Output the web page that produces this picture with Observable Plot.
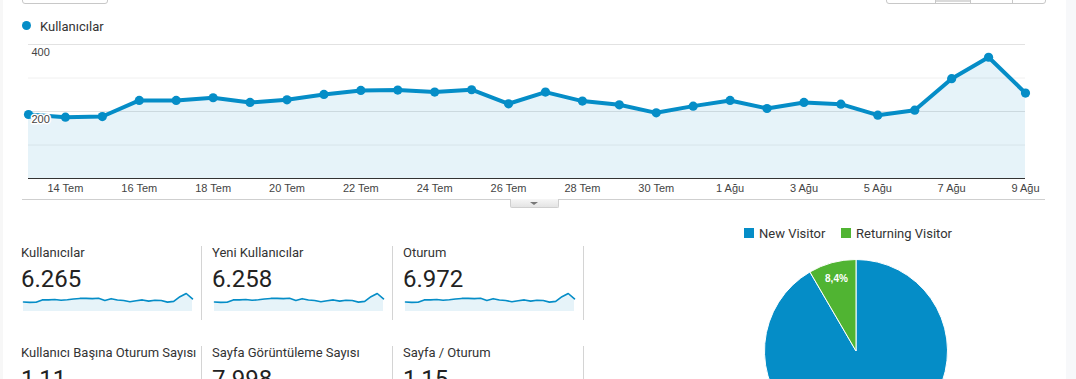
<!DOCTYPE html>
<html><head><meta charset="utf-8">
<script src="https://cdn.jsdelivr.net/npm/d3@7"></script>
<script src="https://cdn.jsdelivr.net/npm/@observablehq/plot@0.6"></script>
<style>
body{margin:0;background:#fff;}
#page{position:relative;width:1076px;height:379px;overflow:hidden;font-family:Roboto,Arial,sans-serif;color:#333;background:#fff;}
.abs{position:absolute;}
.lbl{position:absolute;font-size:13px;line-height:13px;color:#333;white-space:nowrap;}
.val{position:absolute;font-size:24px;line-height:24px;color:#222;white-space:nowrap;}
.sep{position:absolute;width:1px;background:#d4d4d4;}
</style></head><body><div id="page"></div>
<script>
// ---- data ----
const dates = ["2019-07-13","2019-07-14","2019-07-15","2019-07-16","2019-07-17","2019-07-18","2019-07-19",
  "2019-07-20","2019-07-21","2019-07-22","2019-07-23","2019-07-24","2019-07-25","2019-07-26","2019-07-27",
  "2019-07-28","2019-07-29","2019-07-30","2019-07-31","2019-08-01","2019-08-02","2019-08-03","2019-08-04",
  "2019-08-05","2019-08-06","2019-08-07","2019-08-08","2019-08-09"];
const users = [191,183,185,233,233,241,227,235,251,263,264,258,265,223,258,231,220,196,216,233,209,227,222,189,204,298,362,255];
const tickDates = ["2019-07-14","2019-07-16","2019-07-18","2019-07-20","2019-07-22","2019-07-24","2019-07-26",
  "2019-07-28","2019-07-30","2019-08-01","2019-08-03","2019-08-05","2019-08-07","2019-08-09"];
const tickLabels = ["14 Tem","16 Tem","18 Tem","20 Tem","22 Tem","24 Tem","26 Tem","28 Tem","30 Tem",
  "1 Ağu","3 Ağu","5 Ağu","7 Ağu","9 Ağu"];
const yLabelTicks = [400, 200];
const majorGrid = [400, 200];
const minorGrid = [300, 100];
const seriesName = "Kullanıcılar";
const metricNames = ["Kullanıcılar","Yeni Kullanıcılar","Oturum","Kullanıcı Başına Oturum Sayısı","Sayfa Görüntüleme Sayısı","Sayfa / Oturum"];
const metricValues = ["6.265","6.258","6.972","1,11","7.998","1,15"];
const pieLabels = ["New Visitor","Returning Visitor"];
const pieValues = [91.6, 8.4];
const pieText = ["", "8,4%"];
const pieColors = ["#058dc7","#50b432"];
const lineColor = "#058dc7";

const page = document.getElementById("page");
function el(tag, cls, style, text){const e=document.createElement(tag);if(cls)e.className=cls;Object.assign(e.style,style||{});if(text!=null)e.textContent=text;page.appendChild(e);return e;}

const table = dates.map((d,i)=>({date:new Date(d), value:users[i]}));
const d0 = table[0].date, dN = table[table.length-1].date;

// side strips & top buttons
el("div","abs",{left:"0px",top:"0px",width:"3px",height:"379px",background:"#f7f7f7"});
el("div","abs",{left:"1066px",top:"0px",width:"10px",height:"379px",background:"#f7f8fa"});
el("div","abs",{left:"22px",top:"-10px",width:"84px",height:"12px",border:"1px solid #c8c8c8",borderRadius:"3px",background:"#fff"});
const bg = el("div","abs",{left:"886px",top:"-10px",width:"158px",height:"12px",border:"1px solid #c8c8c8",borderRadius:"3px",background:"#fff",overflow:"hidden"});
[[935,970]].forEach(([a,b])=>el("div","abs",{left:a+"px",top:"0px",width:(b-a)+"px",height:"2px",background:"#dadada"}));
[935,970,1012].forEach(x=>el("div","abs",{left:x+"px",top:"0px",width:"1px",height:"3px",background:"#c8c8c8"}));

// legend of main chart
el("div","abs",{left:"21.5px",top:"21px",width:"9px",height:"9px",borderRadius:"50%",background:lineColor});
el("div","lbl",{left:"40px",top:"20px"},seriesName);

// main chart
const fmtISO = d3.utcFormat("%Y-%m-%d");
const main = Plot.plot({
  width:1076, height:200,
  marginLeft:28, marginRight:51, marginTop:44, marginBottom:22,
  style:{fontFamily:"Arial, 'Liberation Sans', sans-serif", fontSize:"11px", color:"#444", background:"transparent", overflow:"visible"},
  x:{type:"utc", domain:[d0,dN]},
  y:{domain:[0,400], axis:null},
  marks:[
    Plot.ruleY(minorGrid,{stroke:"#f0f0f0"}),
    Plot.ruleY(majorGrid,{stroke:"#e2e2e2"}),
    Plot.areaY(table,{x:"date", y:"value", fill:lineColor, fillOpacity:0.1}),
    Plot.ruleY([0],{stroke:"#333", strokeWidth:1}),
    Plot.lineY(table,{x:"date", y:"value", stroke:lineColor, strokeWidth:4}),
    Plot.dot(table,{x:"date", y:"value", r:4.6, fill:lineColor}),
    Plot.text(yLabelTicks,{y:d=>d, text:d=>String(d), frameAnchor:"left", textAnchor:"start", dx:3, dy:8, fill:"#444", stroke:"white", strokeWidth:3, fontSize:11}),
    Plot.axisX(tickDates.map(d=>new Date(d)),{tickSize:0, tickPadding:6, tickFormat:d=>tickLabels[tickDates.indexOf(fmtISO(d))], fill:"#444"})
  ]
});
main.style.position="absolute"; main.style.left="0px"; main.style.top="0px";
page.appendChild(main);

// divider & tab
el("div","abs",{left:"22px",top:"199px",width:"1023px",height:"1px",background:"#cfcfcf"});
const tab = el("div","abs",{left:"510px",top:"199px",width:"47px",height:"8px",border:"1px solid #cfcfcf",borderTop:"none",borderRadius:"0 0 2px 2px",background:"linear-gradient(#f6f6f6,#e4e4e4)"});
el("div","abs",{left:"530px",top:"202px",width:"0",height:"0",borderLeft:"4px solid transparent",borderRight:"4px solid transparent",borderTop:"3px solid #777"});

// metric cards
const cardX = [21,212,403];
const sparkX = [23,214,405];
for(let i=0;i<6;i++){
  const col=i%3,row=Math.floor(i/3);
  el("div","lbl",{left:cardX[col]+"px",top:(246.4+row*100)+"px"},metricNames[i]);
  el("div","val",{left:cardX[col]+"px",top:(266.5+row*100)+"px"},metricValues[i]);
}
[201,392,583].forEach(x=>{el("div","sep",{left:x+"px",top:"246px",height:"74px"});el("div","sep",{left:x+"px",top:"346px",height:"40px"});});
for(let c=0;c<3;c++){
  const sp = Plot.plot({
    width:169, height:18, margin:0,
    style:{background:"transparent", overflow:"visible"},
    x:{type:"utc", domain:[d0,dN], axis:null},
    y:{domain:[0,d3.max(users)], axis:null},
    marks:[
      Plot.areaY(table,{x:"date", y:"value", fill:lineColor, fillOpacity:0.1}),
      Plot.lineY(table,{x:"date", y:"value", stroke:lineColor, strokeWidth:1.6})
    ]
  });
  sp.style.position="absolute"; sp.style.left=sparkX[c]+"px"; sp.style.top="292.7px";
  page.appendChild(sp);
}

// pie legend
const legX = [[744,759],[841,856]];
pieLabels.forEach((l,i)=>{
  el("div","abs",{left:legX[i][0]+"px",top:"228px",width:"10px",height:"10px",background:pieColors[i]});
  el("div","lbl",{left:legX[i][1]+"px",top:"227.4px"},l);
});

// pie chart
const pieData = pieLabels.map((l,i)=>({label:l, value:pieValues[i], text:pieText[i]}));
const R = 91.5;
const pie = Plot.plot({
  width:200, height:200, margin:0,
  style:{background:"transparent", overflow:"visible"},
  x:{domain:[-1,1], axis:null}, y:{domain:[-1,1], axis:null},
  marks:[
    (index, scales, values, dims) => {
      const cx = scales.x(0), cy = scales.y(0);
      const g = d3.create("svg:g").attr("transform",`translate(${cx},${cy})`);
      const arcs = d3.pie().sort(null).value(d=>d.value)(pieData);
      const arc = d3.arc().innerRadius(0).outerRadius(R);
      g.selectAll("path").data(arcs).join("path").attr("d",arc)
        .attr("fill",(d,i)=>pieColors[i]).attr("stroke","#fff").attr("stroke-width",1);
      const la = d3.arc().innerRadius(R*0.82).outerRadius(R*0.82);
      g.selectAll("text").data(arcs.filter(d=>d.data.text)).join("text")
        .attr("transform",d=>`translate(${la.centroid(d)})`)
        .attr("text-anchor","middle").attr("dy","0.35em")
        .attr("fill","#fff").attr("font-weight","bold").attr("font-size","10px")
        .attr("font-family","Arial, 'Liberation Sans', sans-serif")
        .text(d=>d.data.text);
      return g.node();
    }
  ]
});
pie.style.position="absolute"; pie.style.left="755.8px"; pie.style.top="250.8px";
page.appendChild(pie);
</script></body></html>
